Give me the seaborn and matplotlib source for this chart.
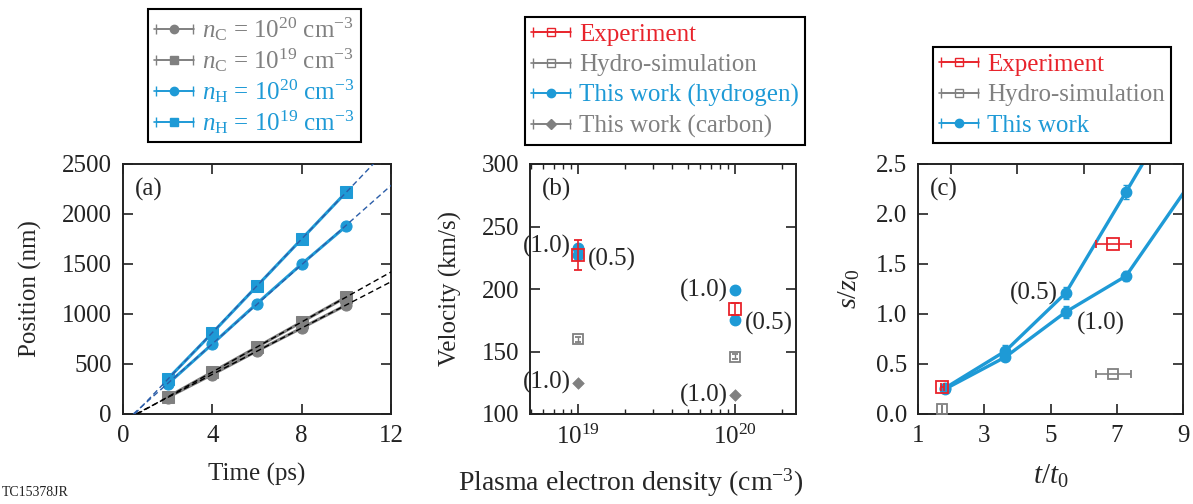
import numpy as np
import matplotlib
matplotlib.use("Agg")
import matplotlib.pyplot as plt
import seaborn as sns
from matplotlib.container import ErrorbarContainer
from matplotlib.legend_handler import HandlerErrorbar
from matplotlib.ticker import FormatStrFormatter

# =========================
# DATA
# =========================
# (a) front position vs time
time_ps = [2, 4, 6, 8, 10]
pos_c20 = [165, 395, 630, 860, 1090]
pos_c19 = [170, 420, 670, 920, 1170]
pos_h20 = [300, 700, 1105, 1500, 1880]
pos_h19 = [350, 810, 1280, 1750, 2220]

# (b) velocity vs density
density = [1e19, 1e20]
vel_exp = [227, 184]
vel_exp_err = [12, 5]
vel_hydro = [160, 146]
vel_hydro_err = [2, 2]
vel_h_10 = [233, 199]
vel_h_05 = [227, 175]
vel_h_err = [2, 2]
vel_c_10 = [125, 115]

# (c) normalised displacement
t_norm = [1.82, 3.64, 5.46, 7.28]
s_half = [0.26, 0.63, 1.21, 2.22]
s_half_err = [0.02, 0.06, 0.06, 0.07]
s_one = [0.25, 0.57, 1.02, 1.38]
s_one_err = [0.02, 0.03, 0.06, 0.05]
t_tail = 9.2
s_half_tail = 3.30
s_one_tail = 2.30
t_exp = [1.73, 6.9]
s_exp = [0.27, 1.70]
t_exp_err = [0.05, 0.52]
t_hydro = [1.73, 6.9]
s_hydro = [0.05, 0.40]
t_hydro_err = [0.0, 0.52]

# =========================
# STYLE
# =========================
BLUE = "#1e9ad6"
DARK_BLUE = "#2b5da8"
GRAY = "#808080"
RED = "#e8232b"
SPINE = "#222222"

sns.set_theme(style="ticks")
plt.rcParams["font.family"] = ["Liberation Serif", "DejaVu Serif"]
plt.rcParams["mathtext.fontset"] = "custom"
plt.rcParams["mathtext.rm"] = "Liberation Serif"
plt.rcParams["mathtext.it"] = "Liberation Serif:italic"
plt.rcParams["font.size"] = 18
plt.rcParams["axes.linewidth"] = 1.4
plt.rcParams["axes.edgecolor"] = SPINE

FS = 18
fig = plt.figure(figsize=(11.93, 5.04), dpi=100)
W, H = 1193, 504


def add_axes(left, right, top=164, bottom=414):
    return fig.add_axes([left / W, 1 - bottom / H, (right - left) / W, (bottom - top) / H])


def style_axis(ax):
    ax.tick_params(which="both", direction="in", top=True, right=True,
                   labelsize=FS, colors=SPINE, labelcolor="#222222", pad=8)
    ax.tick_params(which="major", length=7, width=1.2)
    ax.tick_params(which="minor", length=3.5, width=1.0)
    for s in ax.spines.values():
        s.set_linewidth(1.4)
        s.set_color(SPINE)
    ax.xaxis.label.set_va("center")
    ax.yaxis.label.set_va("center")


def add_legend(ax, handles, labels, colors, x, y, spacing):
    leg = ax.legend(handles, labels, loc="upper left",
                    bbox_to_anchor=(x / W, 1 - y / H), bbox_transform=fig.transFigure,
                    fontsize=FS, frameon=True, fancybox=False, framealpha=1,
                    edgecolor="black", borderaxespad=0, borderpad=0.25,
                    labelspacing=spacing, handlelength=1.6, handletextpad=0.3,
                    handler_map={ErrorbarContainer: HandlerErrorbar(xerr_size=0.75)})
    leg.get_frame().set_linewidth(1.5)
    for t, c in zip(leg.get_texts(), colors):
        t.set_color(c)
    return leg


def proxy(ax, color, marker, mfc=None, ms=6):
    return ax.errorbar([np.nan], [np.nan], xerr=[1], color=color, marker=marker,
                       mfc=mfc if mfc is not None else color, mec=color, ms=ms,
                       capsize=3.5, lw=1.2, elinewidth=1.2)


# =========================
# PANEL (a)
# =========================
ax_a = add_axes(123, 391)
series_a = [(pos_c20, GRAY, "o", "black"), (pos_c19, GRAY, "s", "black"),
            (pos_h20, BLUE, "o", DARK_BLUE), (pos_h19, BLUE, "s", DARK_BLUE)]
for pos, col, mk, fitcol in series_a:
    # dashed linear fit extrapolated from the zero crossing to the axis edge
    slope, icpt = np.polyfit(time_ps, pos, 1)
    x0 = -icpt / slope
    xf = np.array([x0, 12.5])
    ax_a.plot(xf, slope * xf + icpt, ls=(0, (4, 2.5)), lw=1.0, color=fitcol, zorder=3)
    sns.lineplot(x=time_ps, y=pos, ax=ax_a, color=col, marker=mk, lw=2.2,
                 ms=8, mec=col, mfc=col, zorder=2)
ax_a.set_xlim(0, 12)
ax_a.set_ylim(0, 2500)
ax_a.set_xticks([0, 4, 8, 12])
ax_a.set_yticks(range(0, 2501, 500))
ax_a.set_xlabel("Time (ps)", fontsize=FS)
ax_a.set_ylabel("Position (nm)", fontsize=FS)
style_axis(ax_a)
ax_a.xaxis.set_label_coords(0.5, -0.24)
ax_a.yaxis.set_label_coords(-0.345, 0.5)
ax_a.text(0.045, 0.9, "(a)", transform=ax_a.transAxes, fontsize=FS, va="center")

h_a = [proxy(ax_a, GRAY, "o"), proxy(ax_a, GRAY, "s"),
       proxy(ax_a, BLUE, "o"), proxy(ax_a, BLUE, "s")]
lab_a = [r"$n_\mathrm{C}$ = 10$^{20}$ cm$^{-3}$", r"$n_\mathrm{C}$ = 10$^{19}$ cm$^{-3}$",
         r"$n_\mathrm{H}$ = 10$^{20}$ cm$^{-3}$", r"$n_\mathrm{H}$ = 10$^{19}$ cm$^{-3}$"]
add_legend(ax_a, h_a, lab_a, [GRAY, GRAY, BLUE, BLUE], 148, 9, 0.12)

# =========================
# PANEL (b)
# =========================
ax_b = add_axes(530, 796)
ax_b.set_xscale("log")
sns.scatterplot(x=density, y=vel_c_10, ax=ax_b, color=GRAY, marker="D", s=35,
                edgecolor=GRAY, zorder=3)
ax_b.errorbar(density, vel_hydro, yerr=vel_hydro_err, fmt="s", color=GRAY,
              mfc="none", mec=GRAY, ms=7, mew=1.3, capsize=2, elinewidth=1.0, zorder=3)
ax_b.errorbar(density, vel_h_10, yerr=vel_h_err, fmt="o", color=BLUE, ms=7.5,
              capsize=2, elinewidth=1.0, zorder=3)
ax_b.errorbar(density, vel_h_05, yerr=vel_h_err, fmt="o", color=BLUE, ms=7.5,
              capsize=2, elinewidth=1.0, zorder=3)
ax_b.errorbar(density, vel_exp, yerr=vel_exp_err, fmt="s", color=RED, mfc="none",
              mec=RED, ms=8, mew=1.3, capsize=3, elinewidth=1.2, zorder=4)
for x, v, dx, dy, ha in [(density[0], vel_h_10[0], -5, 1, "right"),
                         (density[0], vel_h_05[0], 7, -3, "left"),
                         (density[1], vel_h_10[1], -5, 0, "right"),
                         (density[1], vel_h_05[1], 7, -2, "left"),
                         (density[0], vel_c_10[0], -5, 0, "right"),
                         (density[1], vel_c_10[1], -5, 0, "right")]:
    ax_b.annotate("(1.0)" if ha == "right" else "(0.5)", (x, v), xytext=(dx, dy),
                  textcoords="offset points", ha=ha, va="center", fontsize=FS)
ax_b.set_xlim(4.95e18, 2.45e20)
ax_b.set_ylim(100, 300)
ax_b.set_yticks(range(100, 301, 50))
ax_b.set_xlabel(r"Plasma electron density (cm$^{-3}$)", fontsize=20)
ax_b.set_ylabel("Velocity (km/s)", fontsize=FS)
style_axis(ax_b)
ax_b.xaxis.set_label_coords(0.38, -0.276)
ax_b.yaxis.set_label_coords(-0.30, 0.5)
ax_b.text(0.045, 0.9, "(b)", transform=ax_b.transAxes, fontsize=FS, va="center")

h_b = [proxy(ax_b, RED, "s", mfc="none"), proxy(ax_b, GRAY, "s", mfc="none"),
       proxy(ax_b, BLUE, "o"), proxy(ax_b, GRAY, "D", ms=5)]
lab_b = ["Experiment", "Hydro-simulation", "This work (hydrogen)", "This work (carbon)"]
add_legend(ax_b, h_b, lab_b, [RED, GRAY, BLUE, GRAY], 525, 17, 0.32)

# =========================
# PANEL (c)
# =========================
ax_c = add_axes(918, 1183)
sns.lineplot(x=t_norm + [t_tail], y=s_half + [s_half_tail], ax=ax_c, color=BLUE, lw=2.4, zorder=2)
sns.lineplot(x=t_norm + [t_tail], y=s_one + [s_one_tail], ax=ax_c, color=BLUE, lw=2.4, zorder=2)
ax_c.errorbar(t_norm, s_half, yerr=s_half_err, fmt="o", color=BLUE, ms=7.5,
              capsize=2.5, elinewidth=1.2, zorder=3)
ax_c.errorbar(t_norm, s_one, yerr=s_one_err, fmt="o", color=BLUE, ms=7.5,
              capsize=2.5, elinewidth=1.2, zorder=3)
ax_c.errorbar(t_hydro, s_hydro, xerr=t_hydro_err, fmt="s", color=GRAY, mfc="none",
              mec=GRAY, ms=7, mew=1.3, capsize=3, elinewidth=1.2, zorder=3)
ax_c.errorbar(t_exp, s_exp, xerr=t_exp_err, fmt="s", color=RED, mfc="none",
              mec=RED, ms=8, mew=1.3, capsize=3, elinewidth=1.2, zorder=4)
ax_c.annotate("(0.5)", (t_norm[2], s_half[2]), xytext=(-6, 0), textcoords="offset points",
              ha="right", va="center", fontsize=FS)
ax_c.annotate("(1.0)", (t_norm[2], s_one[2]), xytext=(8, -8), textcoords="offset points",
              ha="left", va="center", fontsize=FS)
ax_c.set_xlim(1, 9)
ax_c.set_ylim(0, 2.5)
ax_c.set_xticks([1, 3, 5, 7, 9])
ax_c.set_yticks(np.arange(0, 2.51, 0.5))
ax_c.yaxis.set_major_formatter(FormatStrFormatter("%.1f"))
ax_c.set_xlabel(r"$t/t_0$", fontsize=21)
ax_c.set_ylabel(r"$s/z_0$", fontsize=20)
style_axis(ax_c)
ax_c.tick_params(top=False)
top = ax_c.secondary_xaxis("top")
top.set_xticks([2, 4, 6, 8])
top.tick_params(direction="in", length=7, width=1.2, labeltop=False, colors=SPINE)
top.spines["top"].set_visible(False)
ax_c.xaxis.set_label_coords(0.5, -0.25)
ax_c.yaxis.set_label_coords(-0.26, 0.5)
ax_c.text(0.045, 0.9, "(c)", transform=ax_c.transAxes, fontsize=FS, va="center")

h_c = [proxy(ax_c, RED, "s", mfc="none"), proxy(ax_c, GRAY, "s", mfc="none"),
       proxy(ax_c, BLUE, "o")]
lab_c = ["Experiment", "Hydro-simulation", "This work"]
add_legend(ax_c, h_c, lab_c, [RED, GRAY, BLUE], 933, 47, 0.32)

fig.text(2 / W, 1 - 493 / H, "TC15378JR", fontsize=10, va="center", color="#222222")

fig.savefig("out.png", dpi=100)
